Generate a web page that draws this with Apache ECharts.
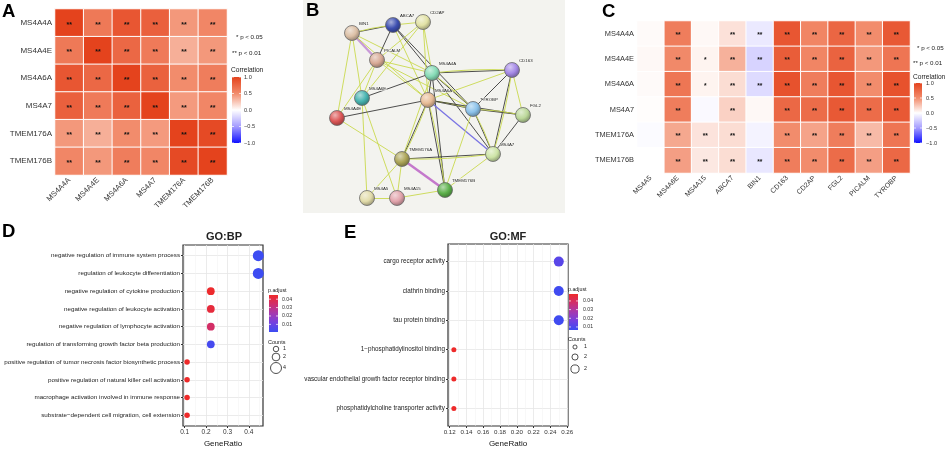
<!DOCTYPE html>
<html><head><meta charset="utf-8">
<script src="https://cdn.jsdelivr.net/npm/echarts@6/dist/echarts.min.js"></script>
<style>html,body{margin:0;padding:0;background:#fff}#c{width:948px;height:449px}</style>
</head><body><div id="c"></div>
<script>
const FONT = "'Liberation Sans', Arial, Helvetica, sans-serif";

// ---------- Panel A: correlation among MS4A / TMEM176 genes ----------
const genesA = ['MS4A4A','MS4A4E','MS4A6A','MS4A7','TMEM176A','TMEM176B'];
const corrA = [
  [1.00,0.63,0.87,0.80,0.45,0.54],
  [0.63,1.00,0.75,0.62,0.35,0.45],
  [0.87,0.75,1.00,0.79,0.50,0.60],
  [0.80,0.62,0.79,1.00,0.44,0.54],
  [0.45,0.35,0.50,0.44,1.00,0.95],
  [0.54,0.45,0.60,0.54,0.95,1.00]
];
const starsA = [
  ['**','**','**','**','**','**'],
  ['**','**','**','**','**','**'],
  ['**','**','**','**','**','**'],
  ['**','**','**','**','**','**'],
  ['**','**','**','**','**','**'],
  ['**','**','**','**','**','**']
];

// ---------- Panel C: correlation with network genes ----------
const rowsC = ['MS4A4A','MS4A4E','MS4A6A','MS4A7','TMEM176A','TMEM176B'];
const colsC = ['MS4A5','MS4A6E','MS4A15','ABCA7','BIN1','CD163','CD2AP','FGL2','PICALM','TYROBP'];
const corrC = [
  [0.02,0.60,0.03,0.13,-0.11,0.87,0.55,0.76,0.50,0.85],
  [0.03,0.52,0.05,0.34,-0.22,0.82,0.55,0.78,0.45,0.66],
  [0.02,0.65,0.05,0.15,-0.18,0.90,0.60,0.87,0.50,0.90],
  [0.01,0.60,-0.03,0.20,0.03,0.75,0.72,0.85,0.72,0.85],
  [-0.02,0.38,0.12,0.15,-0.06,0.50,0.40,0.60,0.30,0.66],
  [0.00,0.42,0.10,0.15,-0.12,0.60,0.50,0.72,0.42,0.75]
];
const starsC = [
  ['','**','','**','**','**','**','**','**','**'],
  ['','**','*','**','**','**','**','**','**','**'],
  ['','**','*','**','**','**','**','**','**','**'],
  ['','**','','**','','**','**','**','**','**'],
  ['','**','**','**','','**','**','**','**','**'],
  ['','**','**','**','**','**','**','**','**','**']
];
const corrTicks = [1.0, 0.5, 0.0, -0.5, -1.0];

// ---------- Panel B: STRING network (layout) ----------
const nodeNames  = ['BIN1','ABCA7','CD2AP','PICALM','MS4A4A','CD163','MS4A6E','MS4A6A','TYROBP','FGL2','MS4A4E','MS4A7','TMEM176A','TMEM176B','MS4A5','MS4A15'];
const nodeX      = [352,393,423,377,432,512,362,428,473,523,337,493,402,445,367,397];
const nodeY      = [33,25,22,60,73,70,98,100,109,115,118,154,159,190,198,198];
const nodeColors = ['#dcc0a6','#3d4fb0','#e2e2a6','#d8aa96','#86dbb6','#a58ae6','#48b4b0','#e8bc96','#8cc2ea','#bcd89a','#dc5656','#cde4a6','#aca558','#5cb04a','#e2dcaa','#e2a4ac'];
const edges = [
  ['BIN1','ABCA7','yk'],['BIN1','PICALM','m'],['BIN1','MS4A4A','y'],['BIN1','MS4A6E','y'],['BIN1','MS4A4E','y'],['BIN1','MS4A6A','y'],
  ['ABCA7','CD2AP','y'],['ABCA7','PICALM','k'],['ABCA7','MS4A4A','k'],['ABCA7','MS4A6A','y'],['ABCA7','TYROBP','k'],
  ['CD2AP','PICALM','y'],['CD2AP','MS4A4A','y'],['CD2AP','MS4A6A','y'],['CD2AP','MS4A6E','y'],
  ['PICALM','MS4A4A','y'],['PICALM','MS4A6A','y'],['PICALM','TYROBP','y'],['PICALM','MS4A6E','y'],['PICALM','MS4A4E','y'],
  ['MS4A6E','MS4A4A','k'],['MS4A6E','MS4A5','y'],['MS4A6E','MS4A15','y'],['MS4A4E','MS4A6A','k'],['MS4A4E','TMEM176A','y'],
  ['MS4A4A','CD163','yk'],['MS4A4A','MS4A6A','k'],['MS4A4A','TYROBP','yk'],['MS4A4A','MS4A7','k'],['MS4A4A','TMEM176A','y'],['MS4A4A','TMEM176B','k'],
  ['MS4A6A','CD163','y'],['MS4A6A','TYROBP','yk'],['MS4A6A','FGL2','k'],['MS4A6A','MS4A7','b'],['MS4A6A','TMEM176A','yk'],['MS4A6A','TMEM176B','yk'],
  ['CD163','TYROBP','k'],['CD163','FGL2','y'],['CD163','MS4A7','yk'],
  ['TYROBP','FGL2','yk'],['TYROBP','MS4A7','yk'],['TYROBP','TMEM176B','y'],['FGL2','MS4A7','k'],
  ['MS4A7','TMEM176A','yk'],['MS4A7','TMEM176B','y'],
  ['TMEM176A','TMEM176B','m2'],['TMEM176A','MS4A5','y'],['TMEM176A','MS4A15','y'],['MS4A5','MS4A15','y'],['MS4A15','TMEM176B','y']
];

// ---------- Panel D: GO:BP ----------
const termsBP = [
  'negative regulation of immune system process',
  'regulation of leukocyte differentiation',
  'negative regulation of cytokine production',
  'negative regulation of leukocyte activation',
  'negative regulation of lymphocyte activation',
  'regulation of transforming growth factor beta production',
  'positive regulation of tumor necrosis factor biosynthetic process',
  'positive regulation of natural killer cell activation',
  'macrophage activation involved in immune response',
  'substrate\u2212dependent cell migration, cell extension'
];
const ratioBP = [0.444,0.444,0.222,0.222,0.222,0.222,0.111,0.111,0.111,0.111];
const padjBP  = [0.0010,0.0012,0.0445,0.0420,0.0350,0.0030,0.0450,0.0450,0.0450,0.0450];
const countBP = [4,4,2,2,2,2,1,1,1,1];
const ticksBP = [0.1,0.2,0.3,0.4];
const minorBP = [0.15,0.25,0.35,0.45];
const padjTicksBP = [0.04,0.03,0.02,0.01];
const countLegendBP = [1,2,4];

// ---------- Panel E: GO:MF ----------
const termsMF = [
  'cargo receptor activity',
  'clathrin binding',
  'tau protein binding',
  '1\u2212phosphatidylinositol binding',
  'vascular endothelial growth factor receptor binding',
  'phosphatidylcholine transporter activity'
];
const ratioMF = [0.25,0.25,0.25,0.125,0.125,0.125];
const padjMF  = [0.0120,0.0075,0.0075,0.0480,0.0480,0.0480];
const countMF = [2,2,2,1,1,1];
const ticksMF = [0.12,0.14,0.16,0.18,0.20,0.22,0.24,0.26];
const minorMF = [0.13,0.15,0.17,0.19,0.21,0.23,0.25];
const padjTicksMF = [0.04,0.03,0.02,0.01];
const countLegendMF = [1,1.5,2];

// ================= build =================
const chart = echarts.init(document.getElementById('c'), null, {renderer:'canvas', width:948, height:449});

function mix(hex, target, t){
  const p = h => [parseInt(h.slice(1,3),16),parseInt(h.slice(3,5),16),parseInt(h.slice(5,7),16)];
  const a = p(hex), b = p(target);
  return 'rgb(' + a.map((v,i)=>Math.round(v+(b[i]-v)*t)).join(',') + ')';
}
function sphere(c){
  return {type:'radial', x:0.38, y:0.32, r:0.72, colorStops:[
    {offset:0, color:mix(c,'#ffffff',0.55)},
    {offset:0.55, color:c},
    {offset:1, color:mix(c,'#000000',0.35)}
  ]};
}

const heatA = [];
corrA.forEach((row,i)=>row.forEach((v,j)=>heatA.push([j,i,v])));
const heatC = [];
corrC.forEach((row,i)=>row.forEach((v,j)=>heatC.push([j,i,v])));

const corrColors = ['#1010ff','#a49cff','#ffffff','#f28c6c','#e4431d'];
const padjColors = ['#3b4cf2','#7440e0','#a538b0','#d02e6c','#ee2a2a'];

const edgeStyle = {
  y:  [{color:'#c9d94e', width:0.9}],
  k:  [{color:'#3a3a3a', width:0.9}],
  yk: [{color:'#3a3a3a', width:0.9, curveness:0}, {color:'#c9d94e', width:0.9, curveness:0.04}],
  b:  [{color:'#7a74e4', width:1.3}],
  m:  [{color:'#c99ad8', width:2.4}],
  m2: [{color:'#c478cc', width:2.4}]
};
const links = [];
edges.forEach(e => edgeStyle[e[2]].forEach(s => links.push({source:e[0], target:e[1], lineStyle:{color:s.color, width:s.width, curveness:s.curveness||0, opacity:1}})));

const sizeBP = c => 5.5*Math.sqrt(c);
const sizeMF = c => 5*c;

function catAxisLabel(size){ return {fontSize:size, color:'#333', fontFamily:FONT}; }

const graphics = [];
function txt(x,y,s,size,opt){
  graphics.push({type:'text', x:x, y:y, silent:true, z:50, style:Object.assign({text:s, fontSize:size, fontFamily:FONT, fill:'#1a1a1a', verticalAlign:'middle', align:'left'}, opt||{})});
}
function colorBar(cb, colors, min, max, values, fmt, labelX, size){
  const stops = colors.slice().reverse().map((c,i,arr)=>({offset:i/(arr.length-1), color:c}));
  graphics.push({type:'rect', silent:true, z:40, shape:{x:cb.left, y:cb.top, width:cb.w, height:cb.h},
    style:{fill:{type:'linear', x:0, y:0, x2:0, y2:1, colorStops:stops}}});
  values.forEach(v=>{
    const y = cb.top + (max - v)/(max - min)*cb.h;
    graphics.push({type:'line', silent:true, z:45, shape:{x1:cb.left, y1:y, x2:cb.left+2, y2:y}, style:{stroke:'#fff', lineWidth:0.7}});
    graphics.push({type:'line', silent:true, z:45, shape:{x1:cb.left+cb.w-2, y1:y, x2:cb.left+cb.w, y2:y}, style:{stroke:'#fff', lineWidth:0.7}});
    txt(labelX, y, fmt(v), size, {fill:'#333'});
  });
}

// Panel B background
graphics.push({type:'rect', silent:true, z:-10, shape:{x:303, y:0, width:262, height:213}, style:{fill:'#f3f3ef'}});

// panel letters
[['A',2,12],['B',306,11],['C',602,12],['D',2,232],['E',344,233]].forEach(l=>txt(l[1],l[2],l[0],18.5,{fontWeight:'bold', fill:'#000'}));

// A legend
txt(236,37,'* p < 0.05',6.2);
txt(232,53,'** p < 0.01',6.2);
txt(231,70,'Correlation',6.6);
// C legend
txt(917,48,'* p < 0.05',6.2);
txt(913,63,'** p < 0.01',6.2);
txt(913,77,'Correlation',6.6);
// titles D/E
txt(224,237,'GO:BP',11,{fontWeight:'bold', align:'center', fill:'#222'});
txt(508,237,'GO:MF',11,{fontWeight:'bold', align:'center', fill:'#222'});

// colorbar geometry
const cbA = {left:232, top:77, w:9, h:66};
const cbC = {left:914, top:83, w:8, h:60};
const cbD = {left:269, top:295, w:9, h:37, min:0.0009, max:0.045};
const cbE = {left:569, top:294, w:9, h:36, min:0.0065, max:0.048};
colorBar(cbA,corrColors,-1,1,corrTicks,v=>v.toFixed(1).replace('-','\u2212'),244,5.6);
colorBar(cbC,corrColors,-1,1,corrTicks,v=>v.toFixed(1).replace('-','\u2212'),926,5.6);
colorBar(cbD,padjColors,cbD.min,cbD.max,padjTicksBP,v=>v.toFixed(2),282,5.2);
colorBar(cbE,padjColors,cbE.min,cbE.max,padjTicksMF,v=>v.toFixed(2),583,5.2);
txt(268,291,'p.adjust',5.3);
txt(568,290,'p.adjust',5.3);

// count legends
txt(268,342,'Counts',5.5);
[349,357,368].forEach((y,i)=>{
  const c = countLegendBP[i];
  graphics.push({type:'circle', silent:true, shape:{cx:276, cy:y, r:sizeBP(c)/2}, style:{fill:'none', stroke:'#222', lineWidth:0.8}});
  txt(283,y,String(c),5.3);
});
txt(568,339,'Counts',5.5);
[347,357,369].forEach((y,i)=>{
  const c = countLegendMF[i];
  graphics.push({type:'circle', silent:true, shape:{cx:575, cy:y, r:sizeMF(c)/2*0.82}, style:{fill:'none', stroke:'#222', lineWidth:0.8}});
  txt(584,y,String(Math.round(c)),5.3);
});

// significance stars: label positioned by percentage (not an "inside" keyword, so no automatic contrast colour)
const starLabel = (stars, size) => ({show:true, position:['50%','56%'], align:'center', verticalAlign:'middle',
  fontSize:size, fontWeight:'bold', color:'#111', textBorderWidth:0, textBorderColor:'transparent',
  formatter:p=>stars[p.data[1]][p.data[0]]});

const noZeroLine = {show:false, onZero:false};

const option = {
  animation:false,
  textStyle:{fontFamily:FONT},
  grid:[
    {left:55, top:9, width:172, height:166},
    {left:637, top:21, width:273, height:152},
    {left:183, top:245, width:80, height:183, show:true, borderColor:'#333', borderWidth:1.2, backgroundColor:'#fff'},
    {left:448, top:244, width:120, height:183, show:true, borderColor:'#333', borderWidth:1.2, backgroundColor:'#fff'}
  ],
  xAxis:[
    {gridIndex:0, type:'category', data:genesA, axisLine:{show:false}, axisTick:{show:false}, splitLine:{show:false},
     axisLabel:Object.assign(catAxisLabel(7.6),{rotate:45, interval:0, margin:4})},
    {gridIndex:1, type:'category', data:colsC, axisLine:{show:false}, axisTick:{show:false}, splitLine:{show:false},
     axisLabel:Object.assign(catAxisLabel(7),{rotate:45, interval:0, margin:4})},
    {gridIndex:2, type:'value', min:0.092, max:0.466, position:'bottom', axisLine:noZeroLine,
     axisTick:{show:true, length:2, lineStyle:{color:'#333'}, customValues:ticksBP},
     axisLabel:{fontSize:6.5, color:'#333', margin:3, customValues:ticksBP, formatter:v=>v.toFixed(1)},
     splitLine:{show:true, lineStyle:{color:'#e6e6e6', width:0.8}},
     name:'GeneRatio', nameLocation:'middle', nameGap:14, nameTextStyle:{fontSize:8, color:'#111'}},
    {gridIndex:2, type:'value', min:0.092, max:0.466, position:'top', axisLine:noZeroLine, axisLabel:{show:false},
     axisTick:{show:false, customValues:minorBP}, splitLine:{show:true, lineStyle:{color:'#f0f0f0', width:0.5}}},
    {gridIndex:3, type:'value', min:0.118, max:0.261, position:'bottom', axisLine:noZeroLine,
     axisTick:{show:true, length:2, lineStyle:{color:'#333'}, customValues:ticksMF},
     axisLabel:{fontSize:6.2, color:'#333', margin:3, customValues:ticksMF, formatter:v=>v.toFixed(2)},
     splitLine:{show:true, lineStyle:{color:'#e6e6e6', width:0.8}},
     name:'GeneRatio', nameLocation:'middle', nameGap:14, nameTextStyle:{fontSize:8, color:'#111'}},
    {gridIndex:3, type:'value', min:0.118, max:0.261, position:'top', axisLine:noZeroLine, axisLabel:{show:false},
     axisTick:{show:false, customValues:minorMF}, splitLine:{show:true, lineStyle:{color:'#f0f0f0', width:0.5}}}
  ],
  yAxis:[
    {gridIndex:0, type:'category', data:genesA, inverse:true, axisLine:{show:false}, axisTick:{show:false}, splitLine:{show:false},
     axisLabel:Object.assign(catAxisLabel(8),{margin:3})},
    {gridIndex:1, type:'category', data:rowsC, inverse:true, axisLine:{show:false}, axisTick:{show:false}, splitLine:{show:false},
     axisLabel:Object.assign(catAxisLabel(7.4),{margin:3})},
    {gridIndex:2, type:'value', inverse:true, min:-0.6, max:termsBP.length-0.4, axisLine:noZeroLine,
     axisTick:{show:true, length:2, lineStyle:{color:'#333'}, customValues:termsBP.map((t,i)=>i)},
     axisLabel:{fontSize:6.25, color:'#222', margin:3, customValues:termsBP.map((t,i)=>i), formatter:v=>termsBP[Math.round(v)]},
     splitLine:{show:true, lineStyle:{color:'#e6e6e6', width:0.8}}},
    {gridIndex:3, type:'value', inverse:true, min:-0.6, max:termsMF.length-0.4, axisLine:noZeroLine,
     axisTick:{show:true, length:2, lineStyle:{color:'#333'}, customValues:termsMF.map((t,i)=>i)},
     axisLabel:{fontSize:6.3, color:'#222', margin:3, customValues:termsMF.map((t,i)=>i), formatter:v=>termsMF[Math.round(v)]},
     splitLine:{show:true, lineStyle:{color:'#e6e6e6', width:0.8}}}
  ],
  visualMap:[
    {type:'continuous', seriesIndex:0, min:-1, max:1, show:false, inRange:{color:corrColors}},
    {type:'continuous', seriesIndex:1, min:-1, max:1, show:false, inRange:{color:corrColors}},
    {type:'continuous', seriesIndex:3, dimension:2, min:cbD.min, max:cbD.max, show:false, inRange:{color:padjColors}},
    {type:'continuous', seriesIndex:4, dimension:2, min:cbE.min, max:cbE.max, show:false, inRange:{color:padjColors}}
  ],
  series:[
    {type:'heatmap', xAxisIndex:0, yAxisIndex:0, data:heatA, itemStyle:{borderColor:'#fff', borderWidth:1},
     label:starLabel(starsA,7), emphasis:{disabled:true}},
    {type:'heatmap', xAxisIndex:1, yAxisIndex:1, data:heatC, itemStyle:{borderColor:'#fff', borderWidth:1},
     label:starLabel(starsC,6.6), emphasis:{disabled:true}},
    {type:'graph', layout:'none', left:Math.min(...nodeX), top:Math.min(...nodeY),
     width:Math.max(...nodeX)-Math.min(...nodeX), height:Math.max(...nodeY)-Math.min(...nodeY),
     symbolSize:15, roam:false, silent:true,
     data:nodeNames.map((n,i)=>({name:n, x:nodeX[i], y:nodeY[i], itemStyle:{color:sphere(nodeColors[i]), borderColor:'#6a6a6a', borderWidth:0.8}})),
     links:links,
     label:{show:true, position:'right', distance:0, offset:[-1,-9], fontSize:4.4, color:'#222', fontFamily:FONT, textBorderColor:'#f8f8f4', textBorderWidth:1},
     emphasis:{disabled:true}, z:3},
    {type:'scatter', xAxisIndex:2, yAxisIndex:2,
     data:termsBP.map((t,i)=>[ratioBP[i], i, padjBP[i], countBP[i]]),
     symbolSize:v=>sizeBP(v[3]), itemStyle:{opacity:1}, emphasis:{disabled:true}},
    {type:'scatter', xAxisIndex:4, yAxisIndex:3,
     data:termsMF.map((t,i)=>[ratioMF[i], i, padjMF[i], countMF[i]]),
     symbolSize:v=>sizeMF(v[3]), itemStyle:{opacity:1}, emphasis:{disabled:true}}
  ],
  graphic:{elements:graphics}
};
chart.setOption(option);
</script>
</body></html>
